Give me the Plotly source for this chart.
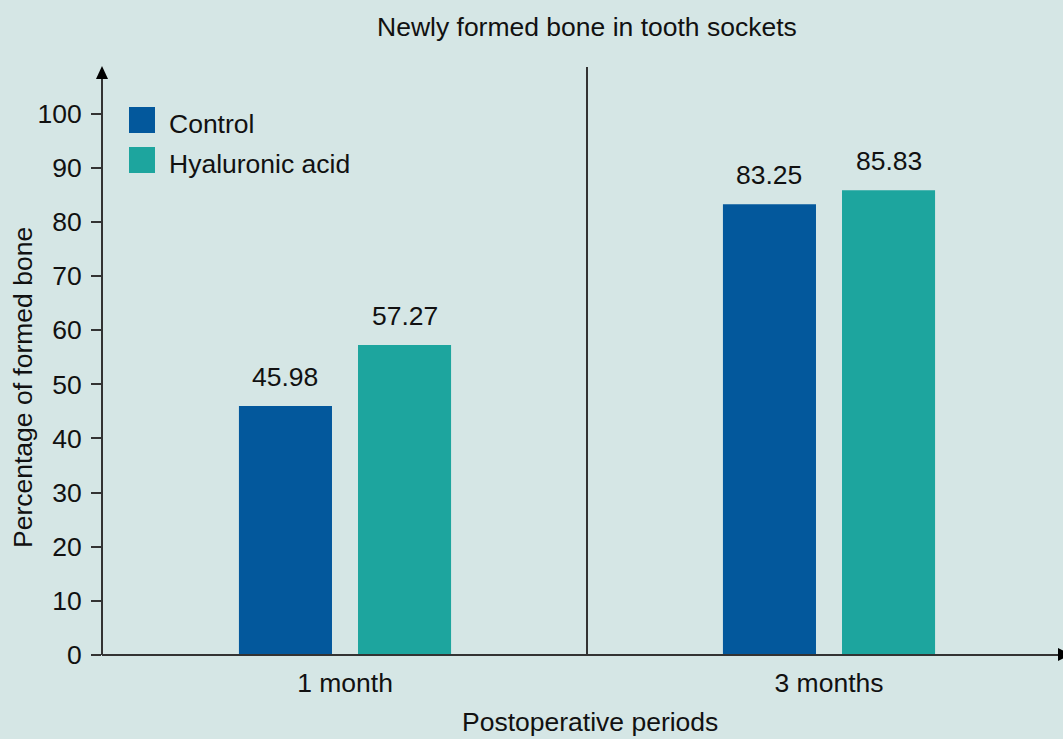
import plotly.graph_objects as go

# Data
periods = ["1 month", "3 months"]
control = [45.98, 83.25]
hyaluronic = [57.27, 85.83]
series_names = ["Control", "Hyaluronic acid"]
y_ticks = list(range(0, 101, 10))

# Styling
BG = "#d5e6e5"
BLUE = "#03589c"
TEAL = "#1da59e"
AXIS = "#333333"
FONT = "Liberation Sans, Arial, sans-serif"
FS = 26.5

W_PX, H_PX = 1063, 739
L, R, T, B = 102, 0, 67, 84
PW = W_PX - L - R
PH = H_PX - T - B

BARGAP = 0.508
BARGROUPGAP = 0.2185
X_START = -0.5 - 1 / 484


def xp(px):
    return (px - L) / PW


def yp(py):
    return (H_PX - B - py) / PH


fig = go.Figure()
fig.add_trace(go.Bar(x=periods, y=control, name=series_names[0],
                     marker=dict(color=BLUE, line=dict(width=0)), showlegend=False))
fig.add_trace(go.Bar(x=periods, y=hyaluronic, name=series_names[1],
                     marker=dict(color=TEAL, line=dict(width=0)), showlegend=False))

annotations = []
# value labels above each bar
slot = (1 - BARGAP) / 2
for i, (c, h) in enumerate(zip(control, hyaluronic)):
    for val, off in ((c, -slot / 2), (h, slot / 2)):
        annotations.append(dict(x=i + off, y=val, xref="x", yref="y", text=f"{val:.2f}",
                                showarrow=False, yanchor="bottom", yshift=12,
                                font=dict(size=FS, color="#111111", family=FONT)))

# titles
annotations.append(dict(x=xp(587), y=yp(27), xref="paper", yref="paper",
                        text="Newly formed bone in tooth sockets", showarrow=False,
                        xanchor="center", yanchor="middle",
                        font=dict(size=FS, color="#111111", family=FONT)))
annotations.append(dict(x=xp(589.5), y=yp(722), xref="paper", yref="paper",
                        text="Postoperative periods", showarrow=False,
                        xanchor="center", yanchor="middle",
                        font=dict(size=FS, color="#111111", family=FONT)))
annotations.append(dict(x=xp(23), y=yp(388), xref="paper", yref="paper",
                        text="Percentage of formed bone", showarrow=False, textangle=-90,
                        xanchor="center", yanchor="middle",
                        font=dict(size=FS, color="#111111", family=FONT)))

shapes = []
# legend swatches and labels
for k, (name, col) in enumerate(zip(series_names, [BLUE, TEAL])):
    top = 107 + 40 * k
    shapes.append(dict(type="rect", xref="paper", yref="paper",
                       x0=xp(129), x1=xp(155), y0=yp(top + 26), y1=yp(top),
                       fillcolor=col, line=dict(width=0)))
    annotations.append(dict(x=xp(167), y=yp(top + 17), xref="paper", yref="paper",
                            text=name, showarrow=False, xanchor="left", yanchor="middle",
                            font=dict(size=FS, color="#111111", family=FONT)))

# y axis line with arrow head
shapes.append(dict(type="line", xref="paper", yref="paper", x0=0, x1=0,
                   y0=0, y1=yp(78), line=dict(color=AXIS, width=2)))
shapes.append(dict(type="path", xref="paper", yref="paper",
                   path=f"M {xp(96)},{yp(79)} L {xp(108)},{yp(79)} L {xp(102)},{yp(66)} Z",
                   fillcolor="#000000", line=dict(width=0)))
# x axis line with arrow head
shapes.append(dict(type="line", xref="paper", yref="paper", x0=0, x1=xp(1060),
                   y0=0, y1=0, line=dict(color=AXIS, width=2)))
shapes.append(dict(type="path", xref="paper", yref="paper",
                   path=f"M {xp(1058)},{yp(648)} L {xp(1058)},{yp(661)} L {xp(1071)},{yp(654.5)} Z",
                   fillcolor="#000000", line=dict(width=0)))
# divider between periods
shapes.append(dict(type="line", xref="x", yref="paper", x0=0.5, x1=0.5,
                   y0=0, y1=1, line=dict(color=AXIS, width=2)))

fig.update_layout(
    width=W_PX, height=H_PX, autosize=False,
    margin=dict(l=L, r=R, t=T, b=B, pad=0),
    paper_bgcolor=BG, plot_bgcolor=BG,
    barmode="group", bargap=BARGAP, bargroupgap=BARGROUPGAP,
    font=dict(family=FONT, size=FS, color="#111111"),
    annotations=annotations, shapes=shapes,
    xaxis=dict(type="category", range=[X_START, X_START + PW / 484], showgrid=False,
               zeroline=False, showline=False, ticks="", ticklabelstandoff=9,
               tickfont=dict(size=FS, color="#111111", family=FONT)),
    yaxis=dict(range=[0, PH / 5.414], tickvals=y_ticks, showgrid=False, zeroline=False,
               showline=False, ticks="outside", ticklen=10, tickwidth=2, tickcolor=AXIS,
               ticklabelstandoff=4,
               tickfont=dict(size=FS, color="#111111", family=FONT)),
)

fig.write_html("out.html")
